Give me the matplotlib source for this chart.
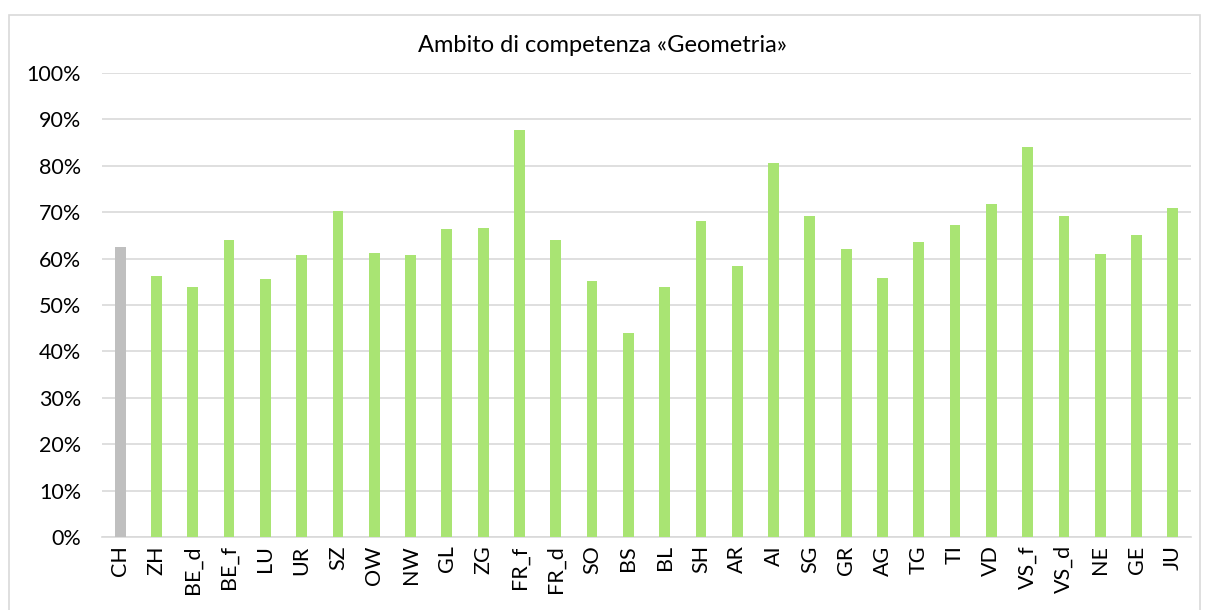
import matplotlib.pyplot as plt
from matplotlib.patches import Rectangle
from matplotlib.ticker import PercentFormatter

plt.rcParams['font.family'] = ['Lato', 'DejaVu Sans']

# Kantone
kantone = ['CH', 'ZH', 'BE_d', 'BE_f', 'LU', 'UR', 'SZ', 'OW', 'NW', 'GL',
           'ZG', 'FR_f', 'FR_d', 'SO', 'BS', 'BL', 'SH', 'AR', 'AI', 'SG',
           'GR', 'AG', 'TG', 'TI', 'VD', 'VS_f', 'VS_d', 'NE', 'GE', 'JU']

# Anteil (%)
werte = [62.5, 56.2, 53.9, 64.1, 55.6, 60.8, 70.2, 61.1, 60.7, 66.3,
         66.7, 87.8, 64.1, 55.1, 44.0, 53.9, 68.2, 58.3, 80.7, 69.2,
         62.1, 55.8, 63.5, 67.3, 71.7, 84.0, 69.1, 60.9, 65.0, 70.9]

farben = ['#BFBFBF'] + ['#A9E473'] * (len(kantone) - 1)

fig = plt.figure(figsize=(12.05, 6.1), dpi=100)
ax = fig.add_axes([102 / 1205, 1 - 537 / 610, 1089 / 1205, 464 / 610])

ax.bar(range(len(kantone)), werte, width=0.3, color=farben, zorder=3)

ax.set_xlim(-0.5, len(kantone) - 0.5)
ax.set_ylim(0, 100)
ax.set_yticks(range(0, 101, 10))
ax.yaxis.set_major_formatter(PercentFormatter(decimals=0))
ax.set_xticks(range(len(kantone)))
ax.set_xticklabels(kantone, rotation=90)
ax.tick_params(length=0, labelsize=15.5, colors='#000000')
ax.tick_params(axis='x', pad=6)
ax.tick_params(axis='y', pad=15)

ax.grid(axis='y', color='#D9D9D9', linewidth=1.2, zorder=0)
for s in ['top', 'right', 'left']:
    ax.spines[s].set_visible(False)
ax.spines['bottom'].set_color('#D9D9D9')
ax.spines['bottom'].set_linewidth(1.2)

fig.text(0.5, 1 - 45 / 610, 'Ambito di competenza «Geometria»',
         ha='center', va='center', fontsize=17)

# Rahmen
fig.patches.append(Rectangle((9 / 1205, -0.01), 1191 / 1205, 1 - 15 / 610 + 0.01,
                             transform=fig.transFigure, fill=False,
                             edgecolor='#D9D9D9', linewidth=1.2))

fig.savefig('out.png', dpi=100)
